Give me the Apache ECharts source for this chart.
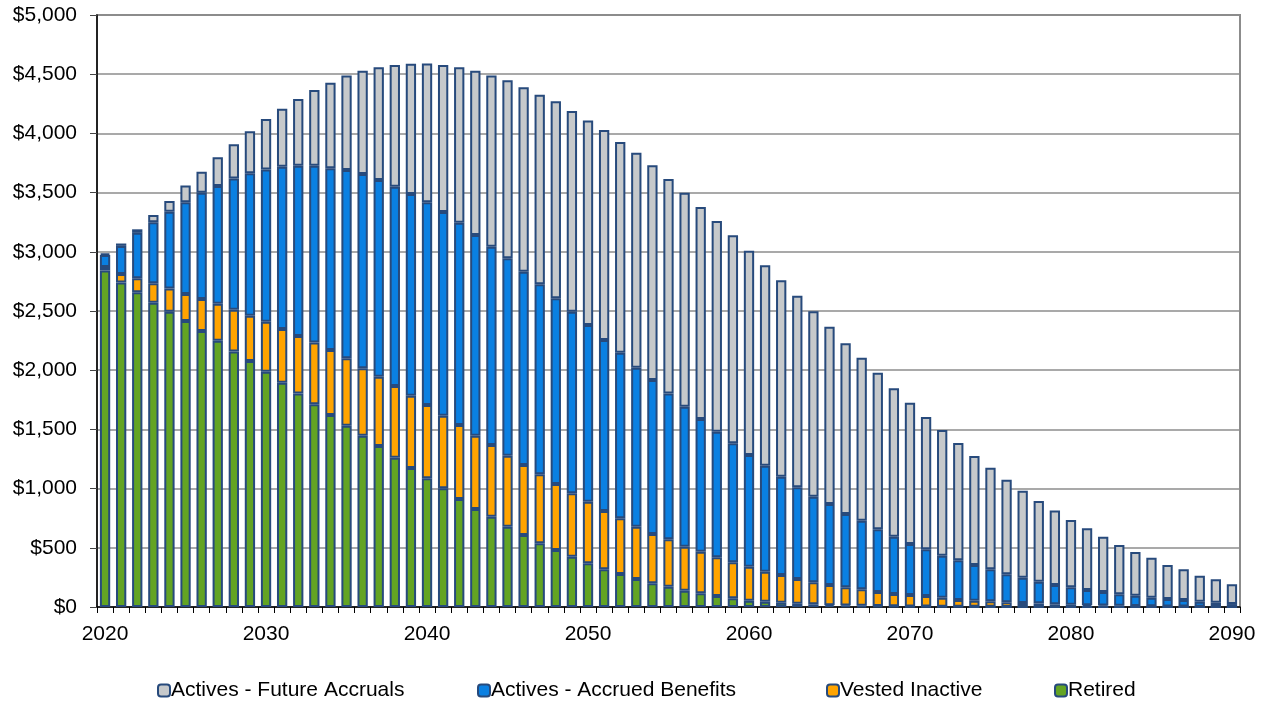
<!DOCTYPE html>
<html>
<head>
<meta charset="utf-8">
<script src="https://cdn.jsdelivr.net/npm/echarts@6/dist/echarts.min.js"></script>
<style>
html,body{margin:0;padding:0;background:#fff;}
#chart{width:1272px;height:702px;}
</style>
</head>
<body>
<div id="chart"></div>
<script>
const years = [];
for (let y = 2020; y <= 2090; y++) years.push(String(y));

const retired = [2842,2740,2658,2570,2494,2416,2331,2249,2157,2078,
  1987,1894,1804,1712,1622,1531,1447,1360,1261,1175,
  1087,1003,912,828,763,678,608,538,481,425,
  369,318,279,236,200,171,138,116,93,73,
  53,45,36,28,23,15,12,10,8,7,
  5,4,3,3,2,2,1,1,1,1,
  0,0,0,0,0,0,0,0,0,0,0];

const vestedInactive = [30,72,118,164,196,228,270,313,354,382,
  423,454,485,521,549,569,569,585,606,610,
  619,613,625,619,605,600,591,583,558,535,
  520,493,470,442,417,401,371,351,327,305,
  287,253,234,208,186,171,154,139,119,103,
  96,89,76,56,51,46,39,33,30,22,
  20,15,12,10,8,6,5,4,3,2,2];

const activesAccrued = [101,238,384,515,649,774,898,994,1109,1203,
  1286,1371,1438,1494,1534,1591,1641,1661,1683,1703,
  1712,1720,1709,1695,1675,1667,1633,1604,1568,1534,
  1493,1444,1399,1343,1300,1232,1183,1121,1061,1004,
  944,896,831,775,723,684,619,580,529,484,
  431,394,354,335,302,270,236,214,183,163,
  146,129,115,97,88,73,63,55,42,34,23];

const activesFuture = [12,20,30,62,90,141,178,242,288,355,
  426,490,564,640,723,797,873,952,1028,1101,
  1172,1242,1312,1388,1445,1503,1557,1602,1664,1695,
  1726,1774,1779,1816,1813,1811,1807,1790,1779,1757,
  1725,1692,1658,1618,1565,1498,1442,1377,1323,1253,
  1194,1118,1062,991,920,859,799,734,681,630,
  569,521,467,417,369,338,287,259,219,198,167];

const seriesNames = ['Actives - Future Accruals','Actives - Accrued Benefits','Vested Inactive','Retired'];
const colors = {
  'Actives - Future Accruals': '#C6C9CB',
  'Actives - Accrued Benefits': '#0A80E2',
  'Vested Inactive': '#FFA400',
  'Retired': '#63A423'
};

const FONT = 'Liberation Sans, Arial, sans-serif';
const borderColor = '#274A7C';

function mkSeries(name, data) {
  return {
    name: name,
    type: 'bar',
    stack: 'total',
    data: data,
    barWidth: '64%',
    itemStyle: { color: colors[name], borderColor: borderColor, borderWidth: 2 },
    emphasis: { disabled: true },
    animation: false
  };
}

const legendLefts = [152, 472, 821, 1049];
const legends = seriesNames.map((n, i) => ({
  data: [n],
  left: legendLefts[i],
  top: 675,
  itemWidth: 12,
  itemHeight: 12,
  itemGap: 0,
  textStyle: { fontFamily: FONT, fontSize: 21, color: '#000', padding: [0, 0, 0, -4] },
  selectedMode: false
}));

const chart = echarts.init(document.getElementById('chart'), null, { renderer: 'canvas' });
chart.setOption({
  backgroundColor: '#fff',
  animation: false,
  legend: legends,
  grid: {
    left: 97, right: 32, top: 15, bottom: 95,
    show: true, borderColor: '#8c8c8c', borderWidth: 2, backgroundColor: 'transparent'
  },
  xAxis: {
    type: 'category',
    data: years,
    boundaryGap: true,
    axisLine: { show: true, lineStyle: { color: '#000', width: 1.5 } },
    axisTick: { show: true, interval: 0, length: 6, lineStyle: { color: '#000', width: 1 } },
    axisLabel: {
      interval: function (i, v) { return (+v) % 10 === 0; },
      fontFamily: FONT, fontSize: 21, color: '#000', margin: 17
    },
    splitLine: { show: false }
  },
  yAxis: {
    type: 'value',
    min: 0, max: 5000, interval: 500,
    axisLine: { show: true, lineStyle: { color: '#000', width: 1.5 } },
    axisTick: { show: true, length: 7, lineStyle: { color: '#444', width: 1 } },
    axisLabel: {
      fontFamily: FONT, fontSize: 21, color: '#000', margin: 20,
      formatter: function (v) { return '$' + v.toLocaleString('en-US'); }
    },
    splitLine: { show: true, lineStyle: { color: '#8c8c8c', width: 1.5 } }
  },
  series: [
    mkSeries('Retired', retired),
    mkSeries('Vested Inactive', vestedInactive),
    mkSeries('Actives - Accrued Benefits', activesAccrued),
    mkSeries('Actives - Future Accruals', activesFuture)
  ]
});
</script>
</body>
</html>
